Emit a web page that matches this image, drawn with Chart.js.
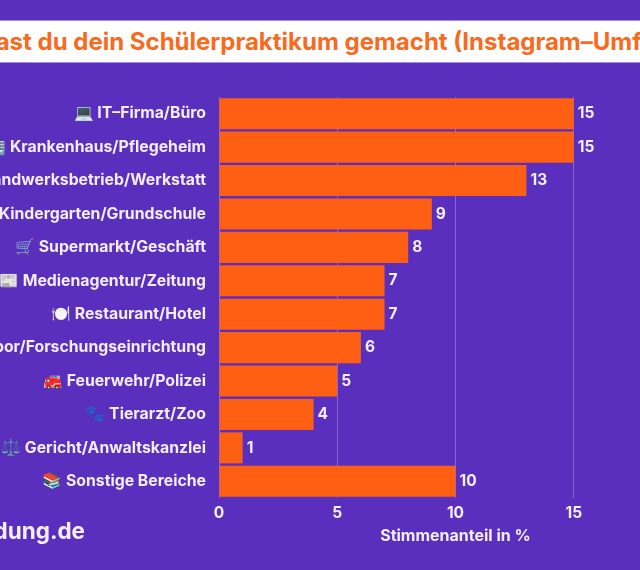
<!DOCTYPE html>
<html lang="de"><head><meta charset="utf-8">
<style>
html,body{margin:0;padding:0;width:640px;height:570px;overflow:hidden;background:#5b2fbe;position:relative}
#wrap{position:absolute;left:-52px;top:0;width:744px;height:570px}
#banner{position:absolute;left:0;width:640px;height:43px;top:20px;background:#fff;border-top:1px solid #a78bea;border-bottom:1px solid #a78bea;box-sizing:border-box;overflow:hidden}
#banner span{position:absolute;left:-100px;width:840px;text-align:center;top:7px;white-space:nowrap;font:700 24px Inter,sans-serif;color:#f96a1e;line-height:28px}
#logo{position:absolute;right:555px;top:515px;white-space:nowrap;font:700 22.5px Inter,sans-serif;color:#f5effd;line-height:32px}
</style></head><body>
<div id="wrap"><canvas id="c" width="744" height="570" style="width:744px;height:570px;display:block"></canvas></div>
<div id="banner"><span>Wo hast du dein Schülerpraktikum gemacht (Instagram–Umfrage)</span></div>
<div id="logo">ausbildung.de</div>
<script src="https://cdn.jsdelivr.net/npm/chart.js@4"></script>
<script>
const categories = ["💻 IT–Firma/Büro","🏥 Krankenhaus/Pflegeheim","🔧 Handwerksbetrieb/Werkstatt","🧒 Kindergarten/Grundschule","🛒 Supermarkt/Geschäft","📰 Medienagentur/Zeitung","🍽️ Restaurant/Hotel","🔬 Labor/Forschungseinrichtung","🚒 Feuerwehr/Polizei","🐾 Tierarzt/Zoo","⚖️ Gericht/Anwaltskanzlei","📚 Sonstige Bereiche"];
const shares = [15,15,13,9,8,7,7,6,5,4,1,10];
const axisTitle = "Stimmenanteil in %";
const textColor = "#f3edfc";
const fontFamily = "Inter, sans-serif";
const valueLabels = {
  id:"valueLabels",
  afterDatasetsDraw(chart){
    const {ctx}=chart, meta=chart.getDatasetMeta(0);
    ctx.save();ctx.fillStyle=textColor;ctx.font="700 15.5px "+fontFamily;ctx.textBaseline="middle";ctx.textAlign="left";
    meta.data.forEach((b,i)=>ctx.fillText(String(shares[i]),b.x+4,b.y));
    ctx.restore();
  }
};
new Chart(document.getElementById("c"),{
  type:"bar",
  data:{labels:categories,datasets:[{data:shares,backgroundColor:"#ff5f13",barPercentage:0.93,categoryPercentage:1}]},
  options:{
    indexAxis:"y",responsive:false,animation:false,devicePixelRatio:1,
    layout:{padding:{top:97,right:0,bottom:24,left:0}},
    plugins:{legend:{display:false},tooltip:{enabled:false},title:{display:false}},
    scales:{
      y:{afterFit(s){s.width=271},grid:{display:false,drawTicks:false},border:{display:false},
         ticks:{autoSkip:false,padding:13,color:textColor,font:{family:fontFamily,size:15.8,weight:"700"}}},
      x:{min:0,max:20,afterFit(s){s.height=48;s.paddingRight=0},grid:{color:"rgba(255,255,255,0.28)",lineWidth:1,drawTicks:false},border:{display:false},
         ticks:{stepSize:5,padding:6,maxRotation:0,color:textColor,font:{family:fontFamily,size:15.5,weight:"700"},callback:v=>v<20?v:""},
         title:{display:true,text:axisTitle,color:textColor,padding:{top:6,bottom:0},font:{family:fontFamily,size:16,weight:"700"}}}
    }
  },
  plugins:[valueLabels]
});
</script></body></html>
